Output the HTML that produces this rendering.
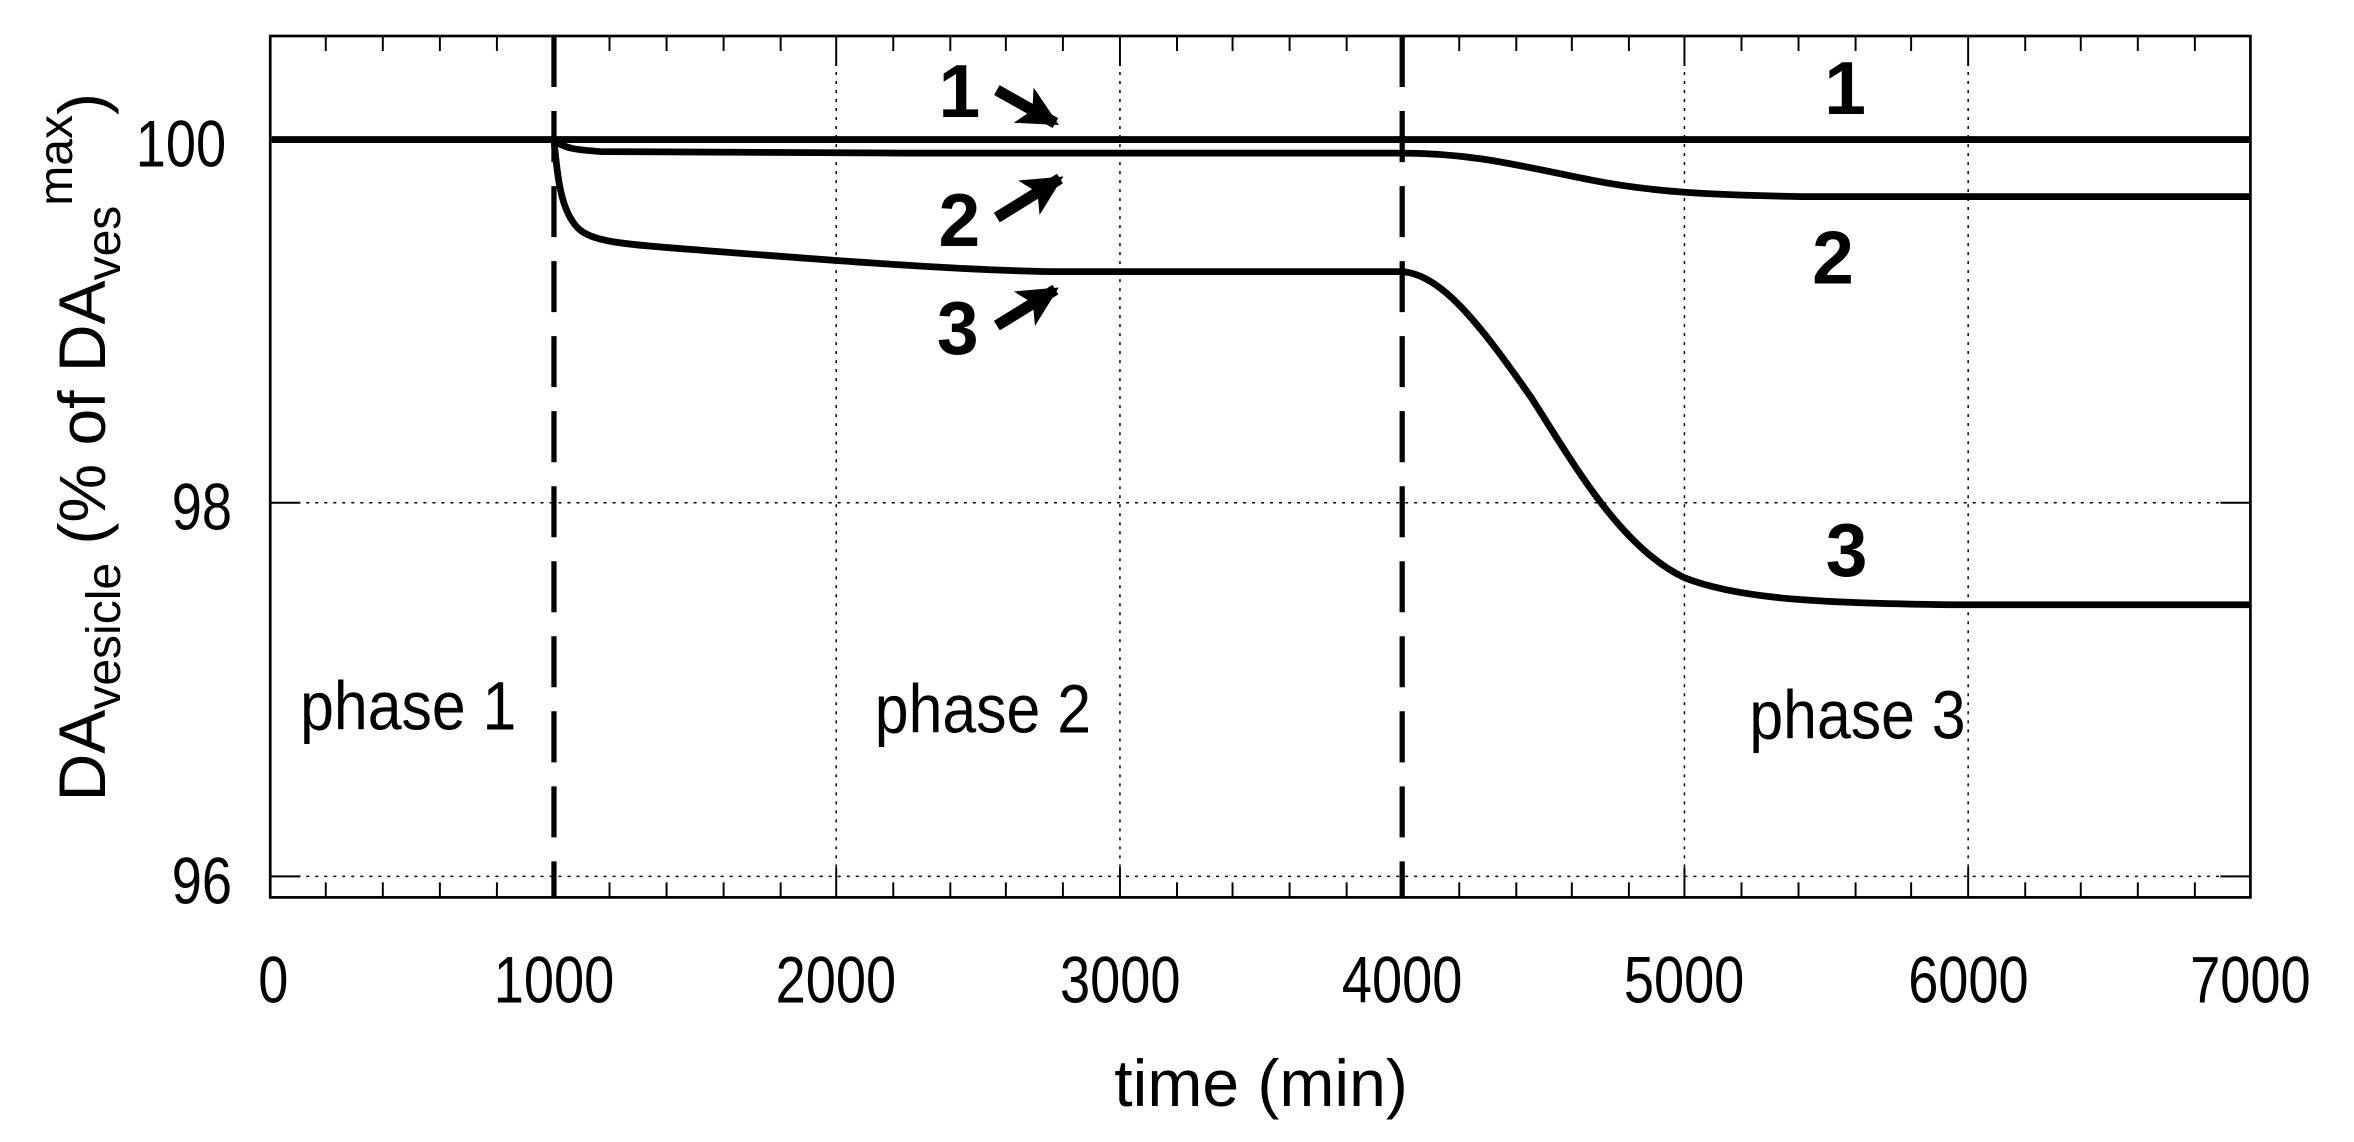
<!DOCTYPE html>
<html><head><meta charset="utf-8"><style>
html,body{margin:0;padding:0;background:#fff;}
svg{display:block;}
text{font-family:"Liberation Sans",sans-serif;fill:#000;}
</style></head><body>
<svg width="2354" height="1142" viewBox="0 0 1568 761" preserveAspectRatio="none" xmlns="http://www.w3.org/2000/svg">
<defs>
<marker id="ah" viewBox="0 0 10 10" refX="9" refY="5" markerWidth="3.6" markerHeight="3.6" orient="auto" markerUnits="strokeWidth">
<path d="M0,0 L10,5 L0,10 L2.5,5 z" fill="#000"/></marker>
</defs>
<g stroke="#000" stroke-width="1" stroke-dasharray="2,4" fill="none">
<line x1="557" y1="24" x2="557" y2="598"/>
<line x1="746" y1="24" x2="746" y2="598"/>
<line x1="1122" y1="24" x2="1122" y2="598"/>
<line x1="1311" y1="24" x2="1311" y2="598"/>
<line x1="180" y1="335" x2="1499" y2="335"/>
<line x1="180" y1="584" x2="1499" y2="584"/>
</g>
<rect x="180" y="24" width="1319" height="574" fill="none" stroke="#000" stroke-width="1.8"/>
<g stroke="#000" stroke-width="1.3">
<path d="M217,598v-10M255,598v-10M293,598v-10M331,598v-10M406,598v-10M444,598v-10M482,598v-10M520,598v-10M595,598v-10M633,598v-10M670,598v-10M708,598v-10M784,598v-10M821,598v-10M859,598v-10M897,598v-10M972,598v-10M1010,598v-10M1047,598v-10M1085,598v-10M1160,598v-10M1198,598v-10M1236,598v-10M1273,598v-10M1349,598v-10M1386,598v-10M1424,598v-10M1462,598v-10"/>
<path d="M217,24v10M255,24v10M293,24v10M331,24v10M406,24v10M444,24v10M482,24v10M520,24v10M595,24v10M633,24v10M670,24v10M708,24v10M784,24v10M821,24v10M859,24v10M897,24v10M972,24v10M1010,24v10M1047,24v10M1085,24v10M1160,24v10M1198,24v10M1236,24v10M1273,24v10M1349,24v10M1386,24v10M1424,24v10M1462,24v10"/>
<path d="M557,598v-20M746,598v-20M1122,598v-20M1311,598v-20M557,24v20M746,24v20M1122,24v20M1311,24v20"/>
<path d="M180,93h20M180,335h20M180,584h20M1499,93h-20M1499,335h-20M1499,584h-20"/>
</g>
<g stroke="#000" stroke-width="3.5" stroke-dasharray="34,16">
<line x1="369" y1="24" x2="369" y2="598"/>
<line x1="934" y1="24" x2="934" y2="598"/>
</g>
<g fill="none" stroke="#000" stroke-width="4.5" stroke-linejoin="round">
<path d="M181,93 L1499,93"/>
<path d="M369,93 C375,99 385,100 400,101 L600,102 L934,102 C980,102 1010,110 1060,120 C1100,128 1140,130 1200,131 L1499,131"/>
<path d="M369,93 C371,115 373,140 385,152 C395,162 420,163 470,167 C560,174 640,180 700,181 L934,181 C960,183 985,215 1020,265 C1050,312 1080,365 1122,385 C1160,400 1220,402 1300,403 L1499,403"/>
</g>
<g stroke="#000" stroke-width="7.5" fill="none">
<line x1="664" y1="60" x2="703" y2="82" marker-end="url(#ah)"/>
<line x1="664" y1="145" x2="706" y2="119" marker-end="url(#ah)"/>
<line x1="664" y1="217" x2="703" y2="193" marker-end="url(#ah)"/>
</g>
<g font-weight="bold" font-size="50" text-anchor="middle">
<text x="639" y="78">1</text>
<text x="639" y="164">2</text>
<text x="638" y="236">3</text>
<text x="1229" y="76">1</text>
<text x="1221" y="189">2</text>
<text x="1230" y="384">3</text>
</g>
<g font-size="46" text-anchor="middle" transform="scale(0.88,1)">
<text x="309" y="486">phase 1</text>
<text x="744" y="488">phase 2</text>
<text x="1406" y="492">phase 3</text>
</g>
<g font-size="44" text-anchor="middle" transform="scale(0.82,1)">
<text x="147" y="111">100</text>
<text x="164" y="353">98</text>
<text x="164" y="602">96</text>
<text x="222" y="668">0</text>
<text x="450" y="668">1000</text>
<text x="679" y="668">2000</text>
<text x="910" y="668">3000</text>
<text x="1139" y="668">4000</text>
<text x="1368" y="668">5000</text>
<text x="1599" y="668">6000</text>
<text x="1828" y="668">7000</text>
</g>
<text x="840" y="737" font-size="44" text-anchor="middle" transform="scale(1,1)">time (min)</text>
<text transform="translate(70,298) rotate(-90)" font-size="44" text-anchor="middle">DA<tspan font-size="32" dy="10">vesicle</tspan><tspan dy="-10"> (% of DA</tspan><tspan font-size="32" dy="10">ves</tspan><tspan font-size="32" dy="-32">max</tspan><tspan dy="22">)</tspan></text>
</svg>
</body></html>
